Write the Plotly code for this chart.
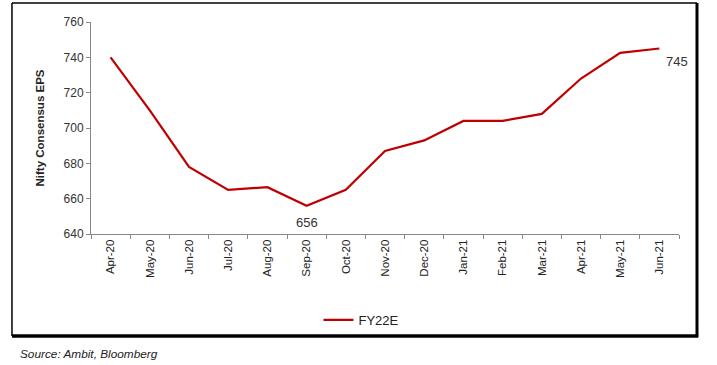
import plotly.graph_objects as go

months = ["Apr-20", "May-20", "Jun-20", "Jul-20", "Aug-20", "Sep-20", "Oct-20", "Nov-20",
          "Dec-20", "Jan-21", "Feb-21", "Mar-21", "Apr-21", "May-21", "Jun-21"]
fy22e = [740, 710, 678, 665, 666.5, 656, 665, 687, 693, 704, 704, 708, 728, 742.5, 745]
y_ticks = [640, 660, 680, 700, 720, 740, 760]

RED = "#C00000"
fig = go.Figure()
fig.add_trace(go.Scatter(x=months, y=fy22e, mode="lines", name="FY22E",
                         line=dict(color=RED, width=2.2)))

# data labels
fig.add_annotation(x=months[5], y=fy22e[5], text="656", showarrow=False,
                   yshift=-17, font=dict(size=13, color="#333", family="Liberation Sans"))
fig.add_annotation(x=months[-1], y=fy22e[-1], text="745", showarrow=False,
                   xanchor="left", xshift=5, yshift=-13,
                   font=dict(size=13, color="#333", family="Liberation Sans"))

# frame around the chart (thin top/left, heavy right/bottom)
L, R, T, B = -0.1344, 1.0306, 1.0896, -0.481
fig.add_shape(type="line", xref="paper", yref="paper", x0=L, x1=R, y0=T, y1=T,
              line=dict(color="black", width=1.5))
fig.add_shape(type="line", xref="paper", yref="paper", x0=L, x1=L, y0=T, y1=B,
              line=dict(color="black", width=1.5))
fig.add_shape(type="line", xref="paper", yref="paper", x0=R, x1=R, y0=T, y1=B - 0.005,
              line=dict(color="black", width=3))
fig.add_shape(type="line", xref="paper", yref="paper", x0=L, x1=R + 0.002, y0=B, y1=B,
              line=dict(color="black", width=3.5))

fig.add_annotation(xref="paper", yref="paper", x=-0.124, y=-0.565, text="<i>Source: Ambit, Bloomberg</i>",
                   showarrow=False, xanchor="left", yanchor="middle",
                   font=dict(size=11.8, color="#222", family="Liberation Sans Narrow, Liberation Sans"))

fig.update_layout(
    width=717, height=365,
    margin=dict(l=91, r=38, t=22, b=131),
    paper_bgcolor="white", plot_bgcolor="white",
    showlegend=True,
    legend=dict(orientation="h", x=0.46, y=-0.405, xanchor="center", yanchor="middle",
                font=dict(size=13, color="#222", family="Liberation Sans Narrow, Liberation Sans"),
                itemwidth=30, bgcolor="rgba(0,0,0,0)"),
    font=dict(family="Liberation Sans", color="#333"),
)
fig.update_xaxes(type="category", showgrid=False, showline=True, linecolor="#888", linewidth=1,
                 ticks="outside", ticklen=4, tickcolor="#888", tickangle=-90,
                 tickson="boundaries", tickfont=dict(size=11.5, color="#222"),
                 range=[-0.5, 14.5])
fig.update_yaxes(range=[640, 760], tickvals=y_ticks, showgrid=False, showline=True,
                 linecolor="#888", linewidth=1, ticks="outside", ticklen=4, tickcolor="#888",
                 tickfont=dict(size=12, color="#333"), zeroline=False,
                 title=dict(text="<b>Nifty Consensus EPS</b>", font=dict(size=11.5, color="#222"), standoff=16))

fig.write_html("out.html", config={"displayModeBar": False},
               post_script="document.body.style.margin='0';")
